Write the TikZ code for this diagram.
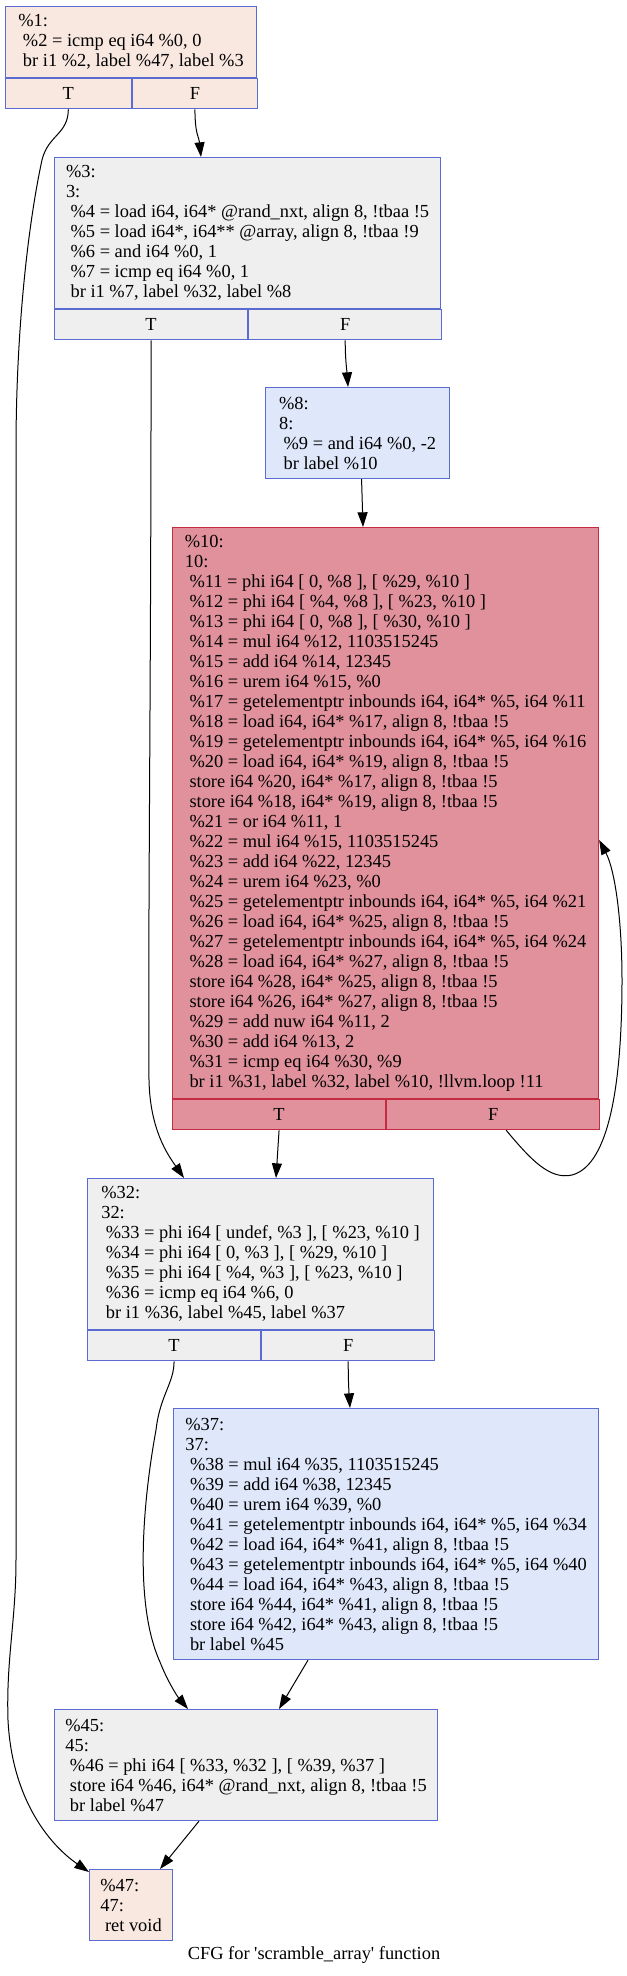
\documentclass[tikz,border=0pt]{standalone}
\usepackage{fontspec}
\setmainfont{Liberation Serif}
\usetikzlibrary{arrows.meta,calc}
\definecolor{cfgpeach}{HTML}{F8E8E0}
\definecolor{cfggrey}{HTML}{EFEFEF}
\definecolor{cfgsky}{HTML}{DFE7FA}
\definecolor{cfgrose}{HTML}{E0919C}
\definecolor{cfgblue}{HTML}{5A6CD2}
\definecolor{cfgred}{HTML}{C42A40}
\tikzset{>={Triangle[length=11pt,width=7.5pt]}}
\tikzset{
  bb/.style={rectangle, draw, line width=0.85pt, anchor=north west, inner sep=0pt,
    align=left, font=\fontsize{13.8pt}{15pt}\selectfont},
  port/.style={bb, minimum height=22.5pt, align=center},
  peachfill/.style={fill=cfgpeach, draw=cfgblue},
  greyfill/.style={fill=cfggrey, draw=cfgblue},
  skyfill/.style={fill=cfgsky, draw=cfgblue},
  rosefill/.style={fill=cfgrose, draw=cfgred},
  edge/.style={->, line width=0.75pt}
}

\begin{document}
\begin{tikzpicture}[x=0.75pt, y=-0.75pt]
    \useasboundingbox (0,0) rectangle (627,1976);
    \node[bb, peachfill, minimum width=188.25pt, minimum height=53.25pt] (bb1) at (5,6)
        {\%1:\\\ \%2 = icmp eq i64 \%0, 0\\\ br i1 \%2, label \%47, label \%3};
    \node[port, peachfill, minimum width=94.125pt] (bb1T) at (bb1.south west) {T};
    \node[port, peachfill, minimum width=94.125pt] (bb1F) at (bb1T.north east) {F};

    \node[bb, greyfill, minimum width=289.5pt, minimum height=113.25pt] (bb3) at (54,157)
        {\%3:\\3:\\\ \%4 = load i64, i64* @rand\_nxt, align 8, !tbaa !5\\
         \ \%5 = load i64*, i64** @array, align 8, !tbaa !9\\\ \%6 = and i64 \%0, 1\\
         \ \%7 = icmp eq i64 \%0, 1\\\ br i1 \%7, label \%32, label \%8};
    \node[port, greyfill, minimum width=144.75pt] (bb3T) at (bb3.south west) {T};
    \node[port, greyfill, minimum width=144.75pt] (bb3F) at (bb3T.north east) {F};

    \node[bb, skyfill, minimum width=138pt, minimum height=68.25pt] (bb8) at (265,387)
        {\%8:\\8:\\\ \%9 = and i64 \%0, -2\\\ br label \%10};

    \node[bb, rosefill, minimum width=319.5pt, minimum height=428.25pt] (bb10) at (172,527)
        {\%10:\\10:\\\ \%11 = phi i64 [ 0, \%8 ], [ \%29, \%10 ]\\
         \ \%12 = phi i64 [ \%4, \%8 ], [ \%23, \%10 ]\\
         \ \%13 = phi i64 [ 0, \%8 ], [ \%30, \%10 ]\\
         \ \%14 = mul i64 \%12, 1103515245\\
         \ \%15 = add i64 \%14, 12345\\
         \ \%16 = urem i64 \%15, \%0\\
         \ \%17 = getelementptr inbounds i64, i64* \%5, i64 \%11\\
         \ \%18 = load i64, i64* \%17, align 8, !tbaa !5\\
         \ \%19 = getelementptr inbounds i64, i64* \%5, i64 \%16\\
         \ \%20 = load i64, i64* \%19, align 8, !tbaa !5\\
         \ store i64 \%20, i64* \%17, align 8, !tbaa !5\\
         \ store i64 \%18, i64* \%19, align 8, !tbaa !5\\
         \ \%21 = or i64 \%11, 1\\
         \ \%22 = mul i64 \%15, 1103515245\\
         \ \%23 = add i64 \%22, 12345\\
         \ \%24 = urem i64 \%23, \%0\\
         \ \%25 = getelementptr inbounds i64, i64* \%5, i64 \%21\\
         \ \%26 = load i64, i64* \%25, align 8, !tbaa !5\\
         \ \%27 = getelementptr inbounds i64, i64* \%5, i64 \%24\\
         \ \%28 = load i64, i64* \%27, align 8, !tbaa !5\\
         \ store i64 \%28, i64* \%25, align 8, !tbaa !5\\
         \ store i64 \%26, i64* \%27, align 8, !tbaa !5\\
         \ \%29 = add nuw i64 \%11, 2\\
         \ \%30 = add i64 \%13, 2\\
         \ \%31 = icmp eq i64 \%30, \%9\\
         \ br i1 \%31, label \%32, label \%10, !llvm.loop !11};
    \node[port, rosefill, minimum width=159.75pt] (bb10T) at (bb10.south west) {T};
    \node[port, rosefill, minimum width=159.75pt] (bb10F) at (bb10T.north east) {F};

    \node[bb, greyfill, minimum width=259.5pt, minimum height=113.25pt] (bb32) at (87,1178)
        {\%32:\\32:\\\ \%33 = phi i64 [ undef, \%3 ], [ \%23, \%10 ]\\
         \ \%34 = phi i64 [ 0, \%3 ], [ \%29, \%10 ]\\
         \ \%35 = phi i64 [ \%4, \%3 ], [ \%23, \%10 ]\\
         \ \%36 = icmp eq i64 \%6, 0\\
         \ br i1 \%36, label \%45, label \%37};
    \node[port, greyfill, minimum width=129.75pt] (bb32T) at (bb32.south west) {T};
    \node[port, greyfill, minimum width=129.75pt] (bb32F) at (bb32T.north east) {F};

    \node[bb, skyfill, minimum width=318.75pt, minimum height=188.25pt] (bb37) at (173,1408)
        {\%37:\\37:\\\ \%38 = mul i64 \%35, 1103515245\\
         \ \%39 = add i64 \%38, 12345\\
         \ \%40 = urem i64 \%39, \%0\\
         \ \%41 = getelementptr inbounds i64, i64* \%5, i64 \%34\\
         \ \%42 = load i64, i64* \%41, align 8, !tbaa !5\\
         \ \%43 = getelementptr inbounds i64, i64* \%5, i64 \%40\\
         \ \%44 = load i64, i64* \%43, align 8, !tbaa !5\\
         \ store i64 \%44, i64* \%41, align 8, !tbaa !5\\
         \ store i64 \%42, i64* \%43, align 8, !tbaa !5\\
         \ br label \%45};

    \node[bb, greyfill, minimum width=287.25pt, minimum height=83.25pt] (bb45) at (54,1709)
        {\%45:\\45:\\\ \%46 = phi i64 [ \%33, \%32 ], [ \%39, \%37 ]\\
         \ store i64 \%46, i64* @rand\_nxt, align 8, !tbaa !5\\
         \ br label \%47};

    \node[bb, peachfill, minimum width=62.25pt, minimum height=53.25pt] (bb47) at (89,1869)
        {\%47:\\47:\\\ ret void};

    \node[font=\fontsize{13.8pt}{15pt}\selectfont] (cap) at (314,1955)
        {CFG for \textquotesingle scramble\_array\textquotesingle{} function};

    \draw[edge] (bb1T.south) .. controls +(0,25) and (48,135) .. (42,160)
        .. controls (30,215) and (16,320) .. (16,450) -- (16,1560)
        .. controls (16,1620) and (6,1660) .. (8,1720)
        .. controls (12,1800) and (50,1845) .. ($(bb47.north west)+(0,3)$);
    \draw[edge] (bb1F.south) .. controls +(0,25) and +(-2,-20) .. ($(bb3.north west)+(147,0)$);
    \draw[edge] (bb3T.south) .. controls +(0,350) and (148,900) .. (149,1080)
        .. controls (150,1130) and (168,1155) .. ($(bb32.north west)+(97,0)$);
    \draw[edge] (bb3F.south) .. controls +(0,20) and +(-1,-15) .. ($(bb8.north west)+(83,0)$);
    \draw[edge] ($(bb8.south)+(4,0)$) -- ($(bb10.north west)+(191,0)$);
    \draw[edge] (bb10T.south) -- ($(bb32.north west)+(189,0)$);
    \draw[edge] ($(bb10F.south)+(13,0)$) .. controls +(25,30) and (550,1180) .. (572,1175)
        .. controls (610,1165) and (622,1080) .. (622,980)
        .. controls (622,920) and (615,870) .. ($(bb10.north east)+(0,313)$);
    \draw[edge] (bb32T.south) .. controls +(0,22) and (160,1395) .. (156,1430)
        .. controls (145,1490) and (132,1600) .. (160,1662)
        .. controls (167,1680) and (177,1696) .. ($(bb45.north west)+(134,0)$);
    \draw[edge] (bb32F.south) .. controls +(0,20) and +(-1,-15) .. ($(bb37.north west)+(177,0)$);
    \draw[edge] ($(bb37.south west)+(135,0)$) -- ($(bb45.north west)+(225,0)$);
    \draw[edge] ($(bb45.south west)+(145,0)$) -- ($(bb47.north west)+(71,0)$);
\end{tikzpicture}
\end{document}
